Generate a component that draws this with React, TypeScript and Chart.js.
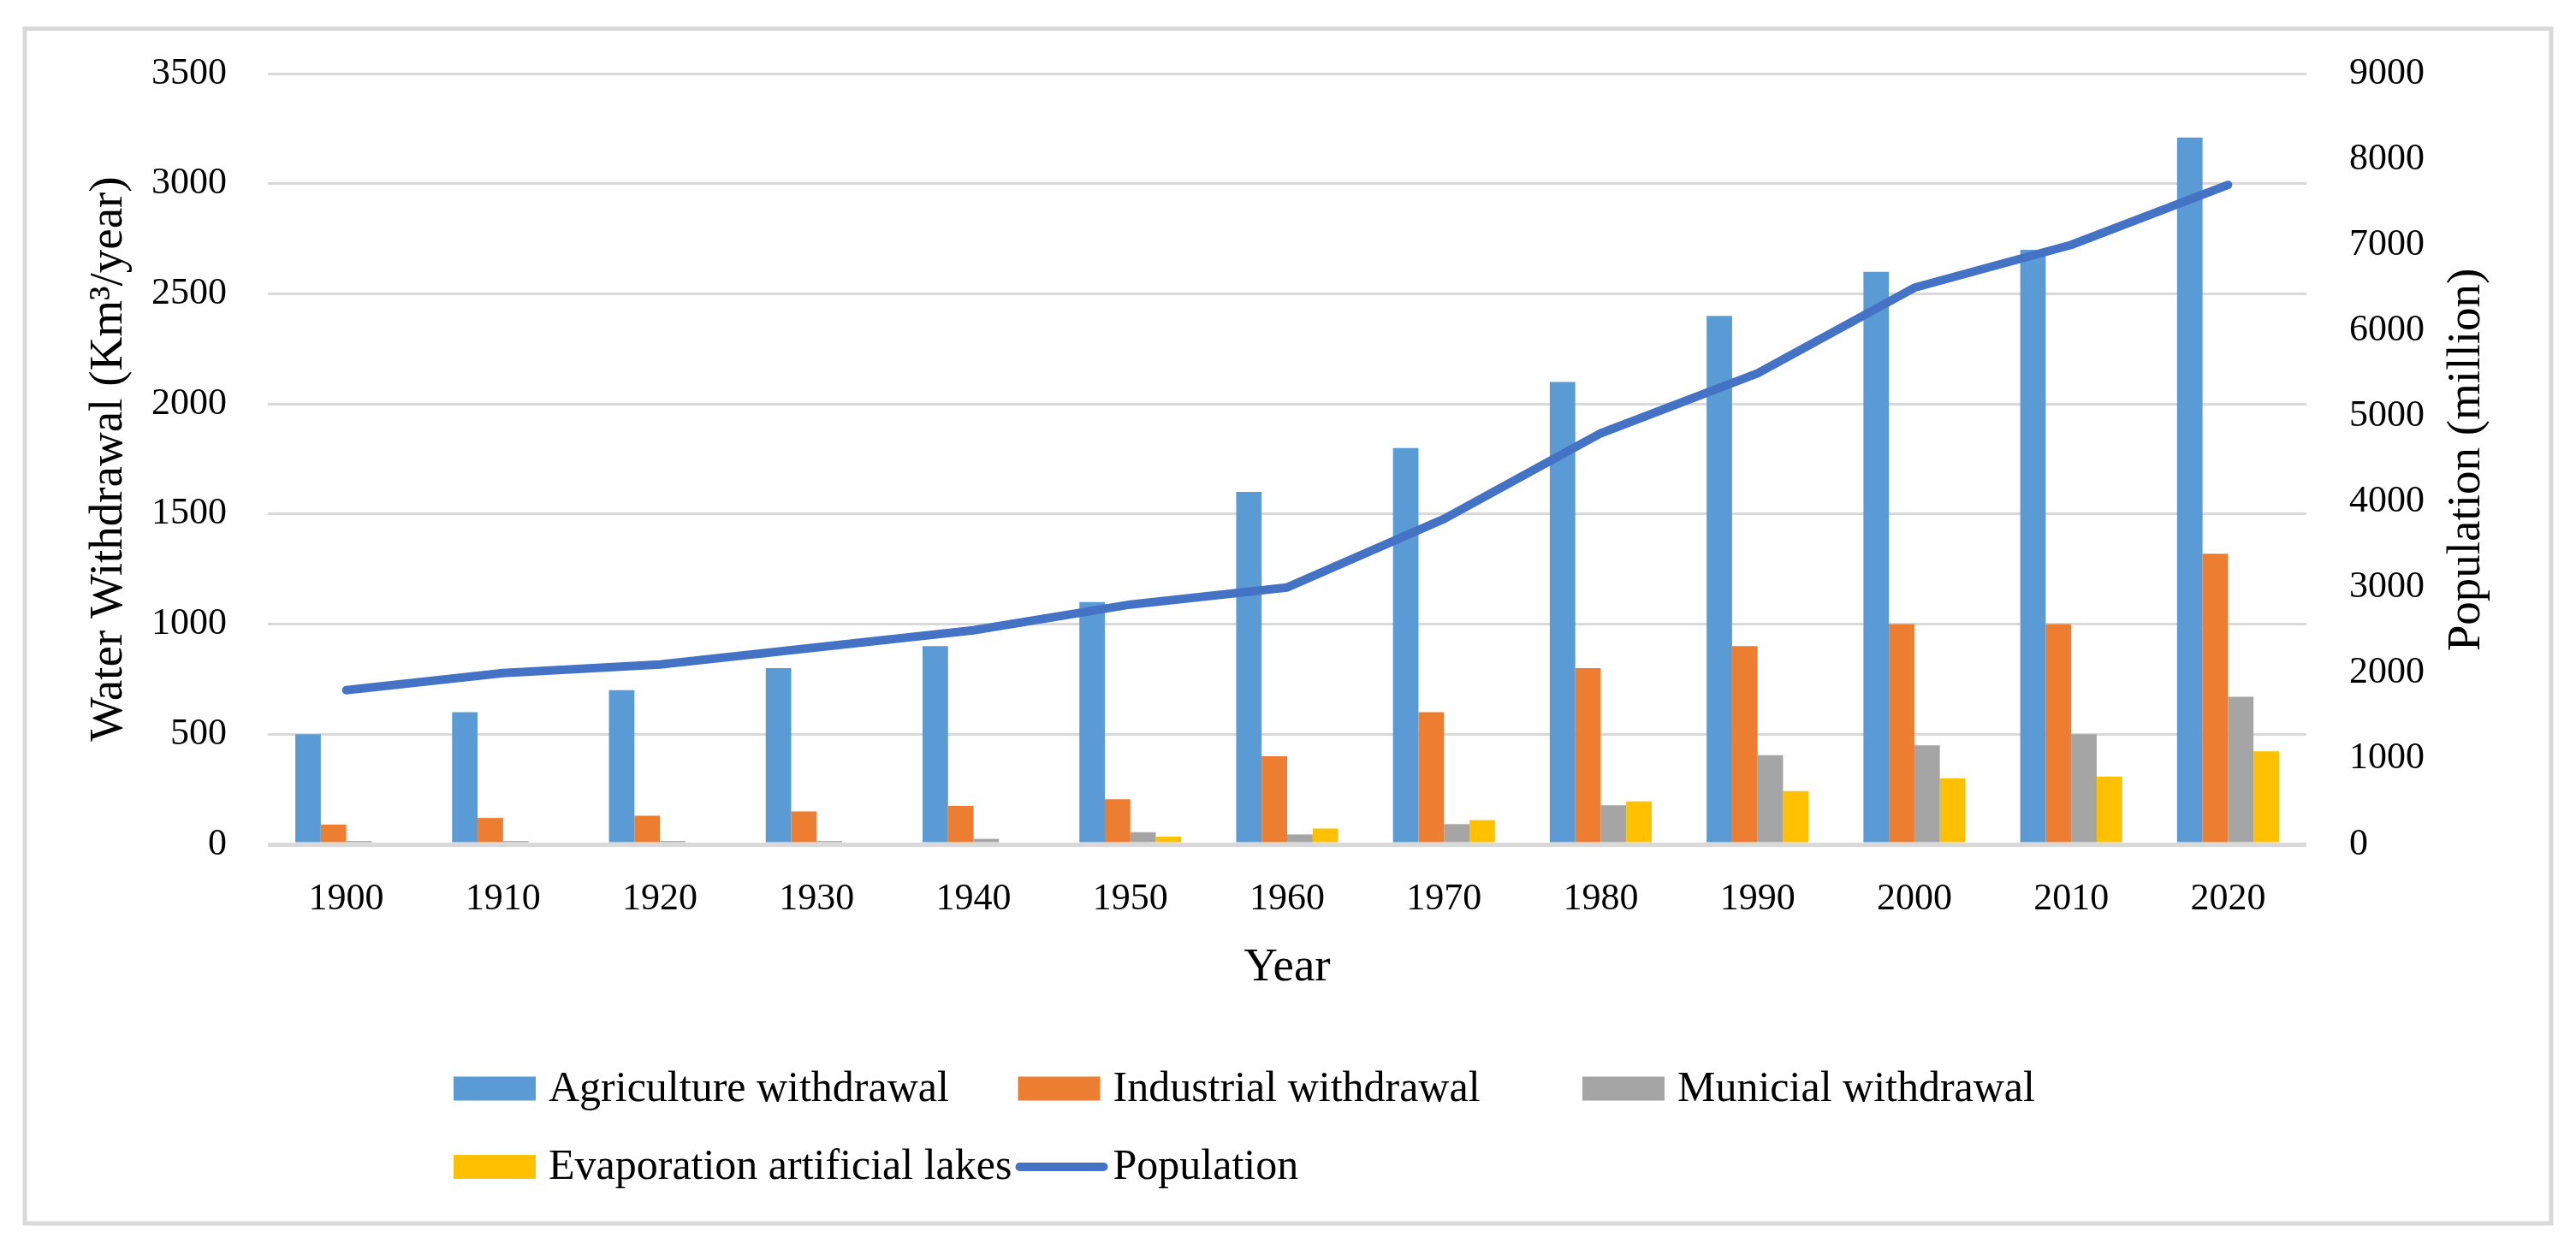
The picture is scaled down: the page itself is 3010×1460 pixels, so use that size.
import React, { useEffect, useRef } from "react";
import { Chart, registerables } from "chart.js";

Chart.register(...registerables);

const years = ["1900", "1910", "1920", "1930", "1940", "1950", "1960", "1970", "1980", "1990", "2000", "2010", "2020"];
const agriculture = [500, 600, 700, 800, 900, 1100, 1600, 1800, 2100, 2400, 2600, 2700, 3210];
const industrial = [90, 120, 130, 150, 175, 205, 400, 600, 800, 900, 1000, 1000, 1320];
const municipal = [15, 15, 15, 15, 25, 55, 45, 92, 178, 405, 450, 500, 670];
const evaporation = [0, 0, 0, 0, 0, 35, 72, 110, 195, 242, 300, 308, 422];
const population = [1800, 2000, 2100, 2300, 2500, 2800, 3000, 3800, 4800, 5500, 6500, 7000, 7700];

const leftTicks = [0, 500, 1000, 1500, 2000, 2500, 3000, 3500];
const rightTicks = [0, 1000, 2000, 3000, 4000, 5000, 6000, 7000, 8000, 9000];

const seriesLabels = [
  "Agriculture withdrawal",
  "Industrial withdrawal",
  "Municial withdrawal",
  "Evaporation artificial lakes",
  "Population",
];
const seriesColors = ["#5B9BD5", "#ED7D31", "#A5A5A5", "#FFC000", "#4472C4"];

const FONT = "'Liberation Serif', 'Times New Roman', serif";

const framePlugin = {
  id: "frame",
  beforeDraw(chart: any) {
    const ctx = chart.ctx;
    ctx.save();
    ctx.fillStyle = "#ffffff";
    ctx.fillRect(0, 0, chart.width, chart.height);
    ctx.strokeStyle = "#D9D9D9";
    ctx.lineWidth = 5;
    ctx.strokeRect(29, 33.5, 2952, 1396.5);
    ctx.restore();
  },
  afterDraw(chart: any) {
    const ctx = chart.ctx;
    const area = chart.chartArea;
    ctx.save();
    // right axis title (reads bottom-to-top)
    ctx.font = `55px ${FONT}`;
    ctx.fillStyle = "#000000";
    ctx.textAlign = "center";
    ctx.textBaseline = "middle";
    ctx.translate(area.right + 188, (area.top + area.bottom) / 2 + 1);
    ctx.rotate(-Math.PI / 2);
    ctx.fillText("Population (million)", 0, 0);
    ctx.restore();

    // legend
    ctx.save();
    ctx.font = `50px ${FONT}`;
    ctx.textBaseline = "middle";
    ctx.textAlign = "left";
    const startX = 530;
    const colW = 659.5;
    const rowY = [1272.5, 1364];
    chart.data.datasets.forEach((ds: any, i: number) => {
      const col = i % 3;
      const row = Math.floor(i / 3);
      const x = startX + col * colW;
      const y = rowY[row];
      if (ds.type === "line") {
        ctx.strokeStyle = ds.borderColor;
        ctx.lineWidth = 10;
        ctx.lineCap = "round";
        ctx.beginPath();
        ctx.moveTo(x + 2, y);
        ctx.lineTo(x + 100, y);
        ctx.stroke();
      } else {
        ctx.fillStyle = ds.backgroundColor;
        ctx.fillRect(x, y - 14, 96, 28);
      }
      ctx.fillStyle = "#000000";
      ctx.fillText(ds.label, x + 111, y + 1);
    });
    ctx.restore();
  },
};

export default function App() {
  const canvasRef = useRef<HTMLCanvasElement | null>(null);

  useEffect(() => {
    document.body.style.margin = "0";
    const canvas = canvasRef.current;
    if (!canvas) return;
    const barSeries = [agriculture, industrial, municipal, evaporation];
    const datasets: any[] = barSeries.map((data, i) => ({
      type: "bar",
      label: seriesLabels[i],
      data,
      backgroundColor: seriesColors[i],
      borderWidth: 0,
      yAxisID: "y",
      categoryPercentage: 0.65,
      barPercentage: 1.0,
      order: 1,
    }));
    datasets.push({
      type: "line",
      label: seriesLabels[4],
      data: population,
      borderColor: seriesColors[4],
      backgroundColor: seriesColors[4],
      borderWidth: 10,
      pointRadius: 0,
      tension: 0,
      borderCapStyle: "round",
      borderJoinStyle: "round",
      yAxisID: "y2",
      order: 0,
    });

    const plain = (v: any) => String(v);

    const chart = new Chart(canvas, {
      type: "bar",
      data: { labels: years, datasets },
      options: {
        animation: false,
        responsive: false,
        devicePixelRatio: 1,
        layout: { padding: { left: 0, right: 0, top: 86, bottom: 273 } },
        plugins: {
          legend: { display: false },
          tooltip: { enabled: false },
        },
        scales: {
          x: {
            grid: { display: false, drawTicks: false },
            border: { display: false },
            ticks: {
              color: "#000000",
              font: { family: FONT, size: 44 },
              padding: 38,
              maxRotation: 0,
              autoSkip: false,
            },
            title: {
              display: true,
              text: "Year",
              color: "#000000",
              font: { family: FONT, size: 55 },
              padding: { top: 0, bottom: 22 },
            },
            afterFit(scale: any) {
              scale.height = 200;
            },
          },
          y: {
            position: "left",
            min: leftTicks[0],
            max: leftTicks[leftTicks.length - 1],
            afterBuildTicks(scale: any) {
              scale.ticks = leftTicks.map((v) => ({ value: v }));
            },
            grid: {
              color: "#D9D9D9",
              lineWidth: (c: any) => (c.tick && c.tick.value === 0 ? 5 : 3),
              drawTicks: false,
            },
            border: { display: false },
            ticks: {
              color: "#000000",
              font: { family: FONT, size: 44 },
              padding: 48,
              callback: plain,
            },
            title: {
              display: true,
              text: "Water Withdrawal (Km³/year)",
              color: "#000000",
              font: { family: FONT, size: 55 },
              padding: { top: 95, bottom: 0 },
            },
            afterFit(scale: any) {
              scale.width = 313;
            },
          },
          y2: {
            position: "right",
            min: rightTicks[0],
            max: rightTicks[rightTicks.length - 1],
            afterBuildTicks(scale: any) {
              scale.ticks = rightTicks.map((v) => ({ value: v }));
            },
            grid: { display: false, drawTicks: false },
            border: { display: false },
            ticks: {
              color: "#000000",
              font: { family: FONT, size: 44 },
              padding: 50,
              callback: plain,
            },
            afterFit(scale: any) {
              scale.width = 315;
            },
          },
        },
      },
      plugins: [framePlugin],
    } as any);

    return () => {
      chart.destroy();
    };
  }, []);

  return (
    <div style={{ position: "absolute", left: 0, top: 0, width: 3010, height: 1460 }}>
      <canvas ref={canvasRef} width={3010} height={1460} style={{ width: 3010, height: 1460, display: "block" }} />
    </div>
  );
}
